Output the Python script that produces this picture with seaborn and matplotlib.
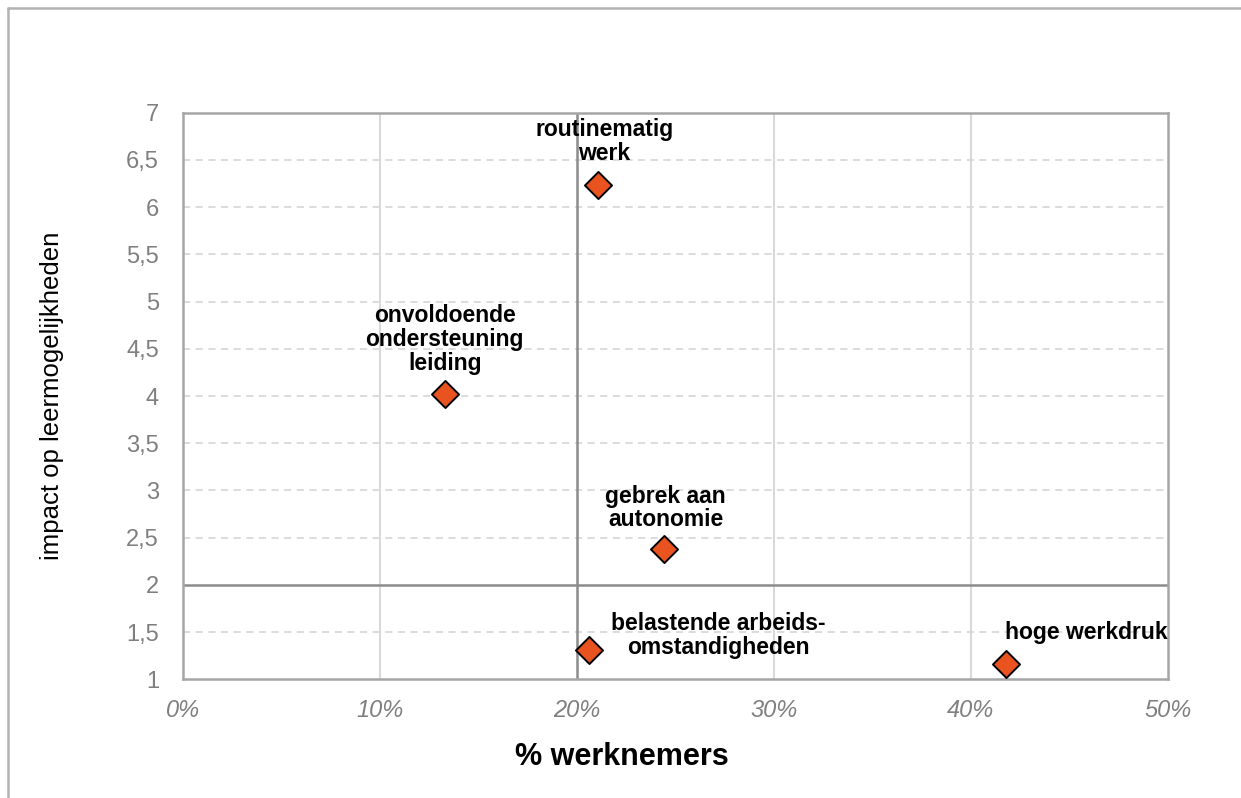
import matplotlib
matplotlib.use("Agg")
import matplotlib.pyplot as plt
import seaborn as sns
import pandas as pd
from matplotlib.lines import Line2D

# data
labels = ["routinematig\nwerk", "onvoldoende\nondersteuning\nleiding", "gebrek aan\nautonomie",
          "belastende arbeids-\nomstandigheden", "hoge werkdruk"]
pct_werknemers = [21.1, 13.3, 24.4, 20.6, 41.8]
impact = [6.23, 4.02, 2.38, 1.31, 1.16]
# label offsets in pixels relative to the marker (dx, dy)
label_offsets = [(6, 44), (0, 55), (2, 41), (130, 15), (80, 32)]
label_align = ["center", "center", "center", "center", "center"]

x_ticks = [0, 10, 20, 30, 40, 50]
y_ticks = [1, 1.5, 2, 2.5, 3, 3.5, 4, 4.5, 5, 5.5, 6, 6.5, 7]

df = pd.DataFrame({"pct": pct_werknemers, "impact": impact, "label": labels})

sns.set_style("white")
plt.rcParams["font.family"] = ["Liberation Sans", "DejaVu Sans"]

fig = plt.figure(figsize=(12.41, 7.98), dpi=100)
ax = fig.add_axes([0.1472, 0.1487, 0.794, 0.7101])

# gridlines
for xv in [10, 30, 40]:
    ax.axvline(xv, color="#d9d9d9", lw=1.5, zorder=0)
for yv in y_ticks:
    if yv not in (1, 2, 7):
        ax.axhline(yv, color="#d9d9d9", lw=1.3, ls=(0, (4, 3)), zorder=0)
# quadrant lines
ax.axvline(20, color="#8c8c8c", lw=1.8, zorder=1)
ax.axhline(2, color="#8c8c8c", lw=1.8, zorder=1)

sns.scatterplot(data=df, x="pct", y="impact", ax=ax, marker="D", s=190,
                color="#e8531f", edgecolor="black", linewidth=1.4, zorder=3, legend=False)

for lab, xv, yv, (dx, dy), ha in zip(labels, pct_werknemers, impact, label_offsets, label_align):
    ax.annotate(lab, (xv, yv), xytext=(dx, dy), textcoords="offset pixels",
                ha=ha, va="center", fontsize=16.5, fontweight="bold", linespacing=1.05,
                color="black", zorder=4)

ax.set_xlim(0, 50)
ax.set_ylim(1, 7)
ax.set_xticks(x_ticks)
ax.set_xticklabels([f"{v}%" for v in x_ticks], style="italic")
ax.set_yticks(y_ticks)
ax.set_yticklabels([f"{v:g}".replace(".", ",") for v in y_ticks])
ax.tick_params(axis="both", length=0, labelsize=17, labelcolor="#7f7f7f")
ax.tick_params(axis="y", pad=17)
ax.tick_params(axis="x", pad=14)

for sp in ax.spines.values():
    sp.set_color("#a6a6a6")
    sp.set_linewidth(1.8)

ax.set_xlabel("% werknemers", fontsize=22, fontweight="bold", color="black")
ax.xaxis.label.set_va("center")
ax.xaxis.set_label_coords(0.446, -0.137)
ax.set_ylabel("impact op leermogelijkheden", fontsize=18.5, color="black")
ax.yaxis.label.set_va("center")
ax.yaxis.set_label_coords(-0.1327, 0.5)

# outer chart border (top and left visible)
fig.add_artist(Line2D([8 / 1241, 1], [1 - 8 / 798, 1 - 8 / 798], color="#b3b3b3", lw=1.8,
                      transform=fig.transFigure))
fig.add_artist(Line2D([8 / 1241, 8 / 1241], [0, 1 - 8 / 798], color="#b3b3b3", lw=1.8,
                      transform=fig.transFigure))

fig.savefig("out.png", dpi=100)
